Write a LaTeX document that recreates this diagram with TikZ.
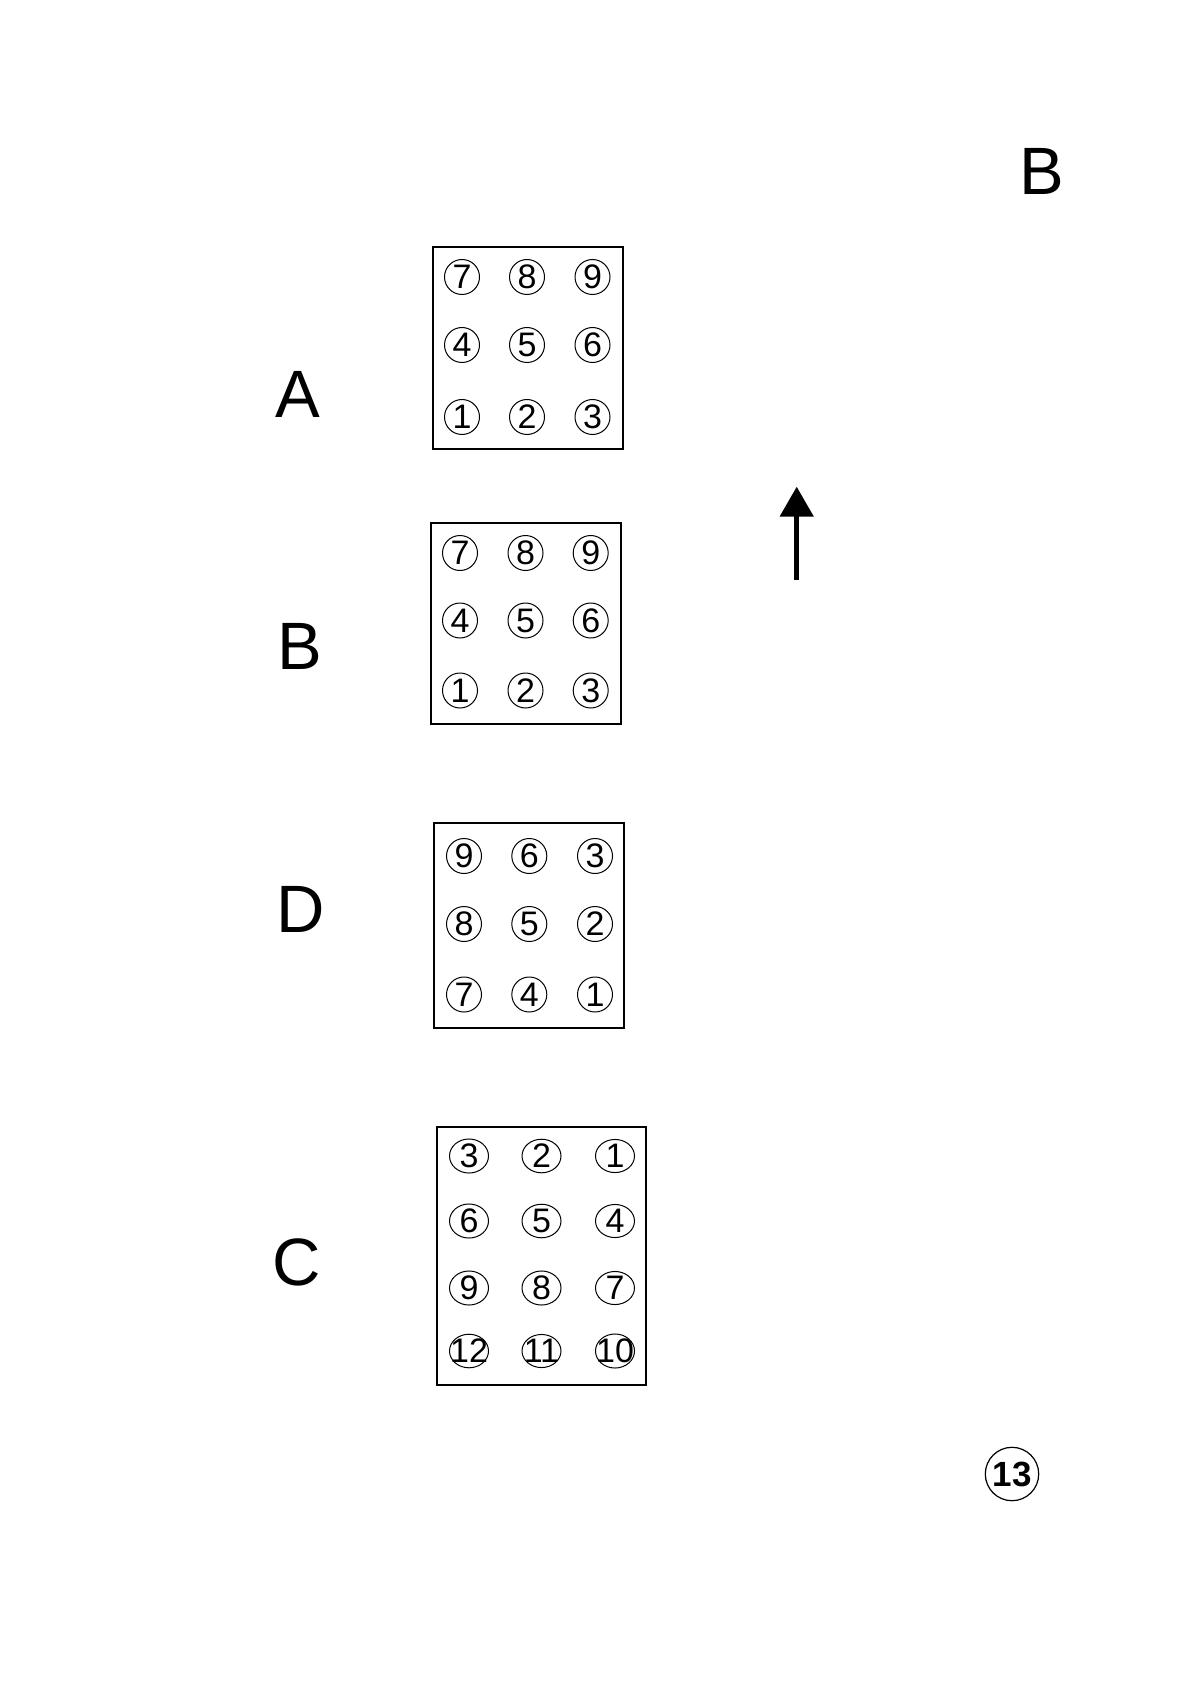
\documentclass[tikz,border=0pt]{standalone}
\usepackage{fontspec}
\setmainfont{Liberation Sans}
\usetikzlibrary{shapes.geometric,arrows.meta}

\tikzset{
  numdot/.style={circle,draw,line width=0.5pt,inner sep=0pt,minimum size=17.5pt,font=\fontsize{17}{17}\selectfont},
  numoval/.style={ellipse,draw,line width=0.5pt,inner sep=0pt,minimum width=19.5pt,minimum height=16.5pt,font=\fontsize{17}{17}\selectfont},
  numwide/.style={numoval,inner xsep=-2.6pt},
  biglabel/.style={inner sep=0pt,font=\fontsize{33.5}{33.5}\selectfont},
  frame/.style={line width=1pt}
}

\begin{document}
\begin{tikzpicture}[x=0.5pt,y=0.5pt,yscale=-1,xscale=1]
%set diagram left start at 0, and has height of 1684
\useasboundingbox (0,0) rectangle (1191,1684);

%Text Node [id:top]
\node[biglabel] (lblTop) at (1042,171) {B};

%Text Node [id:A]
\node[biglabel] (lblA) at (297.5,394) {A};
%Shape: Rectangle [id:boxA]
\draw[frame] (432.7,247) -- (623,247) -- (623,448.5) -- (432.7,448.5) -- cycle ;
\node[numdot] (a7) at (462,277) {7};
\node[numdot] (a8) at (527,277) {8};
\node[numdot] (a9) at (592.5,277) {9};
\node[numdot] (a4) at (462,345) {4};
\node[numdot] (a5) at (527,345) {5};
\node[numdot] (a6) at (592.5,345) {6};
\node[numdot] (a1) at (462,417) {1};
\node[numdot] (a2) at (527,417) {2};
\node[numdot] (a3) at (592.5,417) {3};

%Arrow [id:up]
\coordinate (upFoot) at (796.7,580);
\coordinate (upTip) at (796.7,486.7);
\draw[line width=2.5pt,-{Triangle[length=15pt,width=16.5pt]}] (upFoot) -- (upTip) ;

%Text Node [id:B]
\node[biglabel] (lblB) at (300,646) {B};
%Shape: Rectangle [id:boxB]
\draw[frame] (431,523.3) -- (621,523.3) -- (621,723.5) -- (431,723.5) -- cycle ;
\node[numdot] (b7) at (460,553) {7};
\node[numdot] (b8) at (525.5,553) {8};
\node[numdot] (b9) at (590.7,553) {9};
\node[numdot] (b4) at (460,620.5) {4};
\node[numdot] (b5) at (525.5,620.5) {5};
\node[numdot] (b6) at (590.7,620.5) {6};
\node[numdot] (b1) at (460,690.5) {1};
\node[numdot] (b2) at (525.5,690.5) {2};
\node[numdot] (b3) at (590.7,690.5) {3};

%Text Node [id:D]
\node[biglabel] (lblD) at (301,909) {D};
%Shape: Rectangle [id:boxD]
\draw[frame] (434,823.3) -- (624,823.3) -- (624,1027.7) -- (434,1027.7) -- cycle ;
\node[numdot] (d9) at (464,856) {9};
\node[numdot] (d6) at (529.3,856) {6};
\node[numdot] (d3) at (595,856) {3};
\node[numdot] (d8) at (464,924) {8};
\node[numdot] (d5) at (529.3,924) {5};
\node[numdot] (d2) at (595,924) {2};
\node[numdot] (d7) at (464,994.5) {7};
\node[numdot] (d4) at (529.3,994.5) {4};
\node[numdot] (d1) at (595,994.5) {1};

%Text Node [id:C]
\node[biglabel] (lblC) at (296.5,1262) {C};
%Shape: Rectangle [id:boxC]
\draw[frame] (436.7,1127.3) -- (646,1127.3) -- (646,1385) -- (436.7,1385) -- cycle ;
\node[numoval] (c3) at (469,1156) {3};
\node[numoval] (c2) at (541.5,1156) {2};
\node[numoval] (c1) at (615,1156) {1};
\node[numoval] (c6) at (469,1221) {6};
\node[numoval] (c5) at (541.5,1221) {5};
\node[numoval] (c4) at (615,1221) {4};
\node[numoval] (c9) at (469,1288) {9};
\node[numoval] (c8) at (541.5,1288) {8};
\node[numoval] (c7) at (615,1288) {7};
\node[numwide] (c12) at (469,1351) {12};
\node[numwide] (c11) at (541.5,1351) {11};
\node[numwide] (c10) at (615,1351) {10};

%Page number [id:pg]
\node[circle,draw,line width=0.6pt,inner sep=0pt,minimum size=26.7pt,font=\bfseries\fontsize{17.5}{17.5}\selectfont] (pg13) at (1012,1474) {13};

\end{tikzpicture}
\end{document}
